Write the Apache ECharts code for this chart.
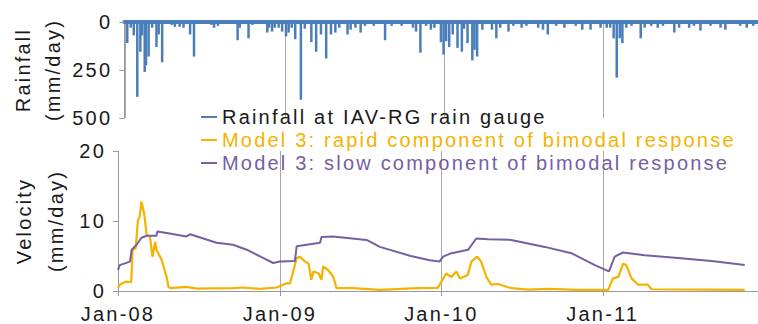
<!DOCTYPE html>
<html>
<head>
<meta charset="utf-8">
<script src="https://cdn.jsdelivr.net/npm/echarts@6/dist/echarts.min.js"></script>
<style>
  html, body { margin: 0; padding: 0; background: #fff; }
  #chart { width: 758px; height: 324px; }
  /* the original figure uses widely spaced lettering */
  #chart text { letter-spacing: 2.2px; }
</style>
</head>
<body>
<div id="chart"></div>
<script>
// daily rainfall events (mm/day)
var rainDates = ['2008-01-05','2008-01-13','2008-01-20','2008-01-28','2008-02-04','2008-02-08','2008-02-14','2008-02-17','2008-02-23','2008-03-02',
  '2008-03-12','2008-03-17','2008-03-25','2008-04-16','2008-04-23','2008-05-04','2008-05-13','2008-05-28','2008-06-06','2008-06-23',
  '2008-07-16','2008-07-22','2008-07-31','2008-09-14','2008-09-19','2008-10-09','2008-10-18','2008-11-21','2008-11-25','2008-12-02',
  '2008-12-08','2008-12-17','2008-12-25','2009-01-03','2009-01-09','2009-01-16','2009-01-24','2009-02-06','2009-02-15','2009-03-02',
  '2009-03-13','2009-03-24','2009-04-05','2009-04-16','2009-04-26','2009-05-05','2009-05-24','2009-05-31','2009-06-11','2009-06-23',
  '2009-07-03','2009-07-23','2009-08-18','2009-09-02','2009-09-25','2009-10-21','2009-10-28','2009-11-07','2009-11-20','2009-12-01',
  '2009-12-09','2009-12-24','2009-12-30','2010-01-05','2010-01-12','2010-01-20','2010-01-31','2010-02-10','2010-02-15','2010-02-23',
  '2010-03-06','2010-03-11','2010-03-17','2010-03-29','2010-04-20','2010-04-30','2010-05-09','2010-05-28','2010-06-08','2010-06-27',
  '2010-07-08','2010-08-04','2010-08-15','2010-08-26','2010-09-14','2010-10-03','2010-10-29','2010-11-13','2010-12-02','2010-12-25',
  '2011-01-08','2011-01-16','2011-01-24','2011-01-31','2011-02-07','2011-02-13','2011-02-22','2011-03-06','2011-03-27','2011-04-05',
  '2011-04-20','2011-05-05','2011-05-17','2011-06-12','2011-06-23','2011-07-16','2011-07-27','2011-08-11','2011-09-03','2011-09-26',
  '2011-10-07','2011-11-10','2011-11-25','2011-12-10'];
var rainValues = [110,30,70,390,155,70,260,225,180,30,
  130,65,210,15,25,25,30,65,180,10,
  15,30,20,95,30,85,15,55,30,50,
  30,30,50,75,55,30,90,405,35,105,
  155,65,190,65,55,30,65,40,30,55,
  20,20,95,20,20,30,50,160,20,40,
  30,105,170,100,130,65,135,155,35,110,
  200,145,180,40,40,85,30,50,20,30,
  20,30,40,65,20,30,20,40,40,30,
  30,30,85,290,85,110,30,20,85,30,
  20,30,20,55,30,30,20,45,20,30,
  40,20,30,20];

// Model 3, rapid component of bimodal response (mm/day)
var rapidDates = ['2008-01-01','2008-01-05','2008-01-17','2008-01-31','2008-02-03','2008-02-10','2008-02-15','2008-02-19','2008-02-23','2008-02-29',
  '2008-03-06','2008-03-13','2008-03-19','2008-03-25','2008-03-28','2008-04-09','2008-04-20','2008-04-24','2008-04-28','2008-06-04',
  '2008-06-27','2008-09-17','2008-10-10','2008-11-17','2008-12-25','2009-01-16','2009-01-24','2009-02-08','2009-02-15','2009-02-27',
  '2009-03-07','2009-03-13','2009-03-18','2009-03-30','2009-04-05','2009-04-09','2009-04-20','2009-05-02','2009-05-09','2009-06-16',
  '2009-08-15','2009-11-09','2009-12-24','2010-01-01','2010-01-12','2010-01-24','2010-02-04','2010-02-12','2010-03-02','2010-03-10',
  '2010-03-23','2010-04-01','2010-04-13','2010-04-24','2010-05-09','2010-06-08','2010-07-16','2010-08-31','2010-11-06','2011-01-13',
  '2011-01-24','2011-02-05','2011-02-16','2011-02-23','2011-03-07','2011-03-22','2011-04-13','2011-04-21','2011-09-04','2011-11-18'];
var rapidValues = [0.4,0.9,1.3,1.3,5.9,6.1,10.1,10.6,12.8,11.1,
  8.0,7.8,4.9,7.0,5.9,4.4,2.0,0.6,0.4,0.6,
  0.35,0.4,0.5,0.3,0.5,1.1,1.1,4.7,4.9,4.2,
  3.9,1.6,2.8,2.5,1.6,3.5,3.0,2.0,0.4,0.4,
  0.15,0.4,0.45,1.3,2.5,2.0,2.8,1.8,2.3,4.2,
  4.9,4.2,2.0,0.9,1.0,0.4,0.2,0.3,0.15,0.15,
  1.8,2.0,3.9,3.7,1.8,0.9,0.9,0.25,0.2,0.15];

// Model 3, slow component of bimodal response (mm/day)
var slowDates = ['2008-01-01','2008-01-05','2008-01-28','2008-02-01','2008-02-12','2008-02-23','2008-03-06','2008-03-28','2008-03-30','2008-04-20',
  '2008-06-04','2008-06-12','2008-08-11','2008-09-17','2008-10-18','2008-11-25','2008-12-17','2009-01-01','2009-02-04','2009-02-08',
  '2009-04-02','2009-04-05','2009-05-01','2009-07-16','2009-08-15','2009-10-24','2009-12-06','2009-12-28','2010-01-05','2010-01-24',
  '2010-03-03','2010-03-21','2010-04-17','2010-06-08','2010-08-23','2010-10-22','2010-12-14','2011-01-15','2011-01-28','2011-02-16',
  '2011-04-06','2011-06-20','2011-09-04','2011-11-18'];
var slowValues = [3.0,3.7,4.2,5.9,6.6,7.6,7.9,7.9,8.5,8.3,
  7.8,8.1,6.9,6.6,5.9,4.7,4.0,4.2,4.3,6.4,
  6.9,7.7,7.8,7.3,6.3,5.0,4.4,4.2,4.9,5.4,
  5.9,7.5,7.4,7.3,6.3,5.4,3.7,2.8,4.9,5.5,
  5.1,4.7,4.3,3.7];

var xMin = '2008-01-01';
var xMax = '2011-12-18';
var rainLabel = 'Rainfall at IAV-RG rain gauge';
var rapidLabel = 'Model 3: rapid component of bimodal response';
var slowLabel = 'Model 3: slow component of bimodal response';

function zip(a, b) {
  var out = [];
  for (var i = 0; i < a.length; i++) {
    out.push([a[i], b[i]]);
  }
  return out;
}

var font = 'Liberation Sans';
var axisGrey = '#9a9a9a';
var yearMs = 365 * 24 * 3600 * 1000;

function yearLabel(v) {
  var d = new Date(v);
  return 'Jan-' + String(d.getFullYear()).slice(2);
}

var myChart = echarts.init(document.getElementById('chart'), null, { renderer: 'svg' });

var option = {
  backgroundColor: '#fff',
  animation: false,
  textStyle: { fontFamily: font },
  legend: {
    orient: 'vertical',
    left: 196,
    top: 102,
    itemGap: 3,
    itemWidth: 16,
    itemHeight: 2,
    icon: 'rect',
    textStyle: { fontSize: 20, fontFamily: font },
    data: [
      { name: rainLabel, textStyle: { color: '#1a1a1a' } },
      { name: rapidLabel, textStyle: { color: '#f3b300' } },
      { name: slowLabel, textStyle: { color: '#7560a3' } }
    ]
  },
  grid: [
    { left: 118, right: 0, top: 22, height: 96 },
    { left: 118, right: 0, top: 151, height: 140 }
  ],
  xAxis: [
    {
      type: 'time', gridIndex: 0, min: xMin, max: xMax,
      splitNumber: 4, minInterval: yearMs,
      axisLine: { lineStyle: { color: '#4a7ebb', width: 4 } },
      axisTick: { show: false },
      axisLabel: { show: false },
      splitLine: { show: true, lineStyle: { color: '#a8a8a8', width: 1 } }
    },
    {
      type: 'time', gridIndex: 1, min: xMin, max: xMax,
      splitNumber: 4, minInterval: yearMs,
      axisLine: { lineStyle: { color: axisGrey, width: 1 } },
      axisTick: { show: true, length: 5, lineStyle: { color: axisGrey } },
      axisLabel: {
        fontSize: 20, color: '#1a1a1a', margin: 13,
        formatter: yearLabel
      },
      splitLine: { show: true, lineStyle: { color: '#a8a8a8', width: 1 } }
    }
  ],
  yAxis: [
    {
      type: 'value', gridIndex: 0, inverse: true,
      min: 0, max: 500, interval: 250,
      name: 'Rainfall\n(mm/day)', nameLocation: 'middle', nameGap: 50,
      nameTextStyle: { fontSize: 20, color: '#1a1a1a', lineHeight: 30 },
      axisLine: { show: true, lineStyle: { color: axisGrey } },
      axisTick: { show: true, length: 5, lineStyle: { color: axisGrey } },
      axisLabel: { fontSize: 20, color: '#1a1a1a', margin: 12 },
      splitLine: { show: false }
    },
    {
      type: 'value', gridIndex: 1,
      min: 0, max: 20, interval: 10,
      name: 'Velocity\n(mm/day)', nameLocation: 'middle', nameGap: 46,
      nameTextStyle: { fontSize: 20, color: '#1a1a1a', lineHeight: 32 },
      axisLine: { show: true, lineStyle: { color: axisGrey } },
      axisTick: { show: true, length: 5, lineStyle: { color: axisGrey } },
      axisLabel: { fontSize: 20, color: '#1a1a1a', margin: 12 },
      splitLine: { show: false }
    }
  ],
  series: [
    {
      name: rainLabel, type: 'bar',
      xAxisIndex: 0, yAxisIndex: 0,
      barWidth: 2.5,
      itemStyle: { color: '#4a7ebb' },
      data: zip(rainDates, rainValues)
    },
    {
      name: rapidLabel, type: 'line',
      xAxisIndex: 1, yAxisIndex: 1,
      showSymbol: false, symbol: 'none',
      lineStyle: { color: '#f3b300', width: 2.2 },
      itemStyle: { color: '#f3b300' },
      data: zip(rapidDates, rapidValues)
    },
    {
      name: slowLabel, type: 'line',
      xAxisIndex: 1, yAxisIndex: 1,
      showSymbol: false, symbol: 'none',
      lineStyle: { color: '#7560a3', width: 2 },
      itemStyle: { color: '#7560a3' },
      data: zip(slowDates, slowValues)
    }
  ]
};

myChart.setOption(option);
</script>
</body>
</html>
